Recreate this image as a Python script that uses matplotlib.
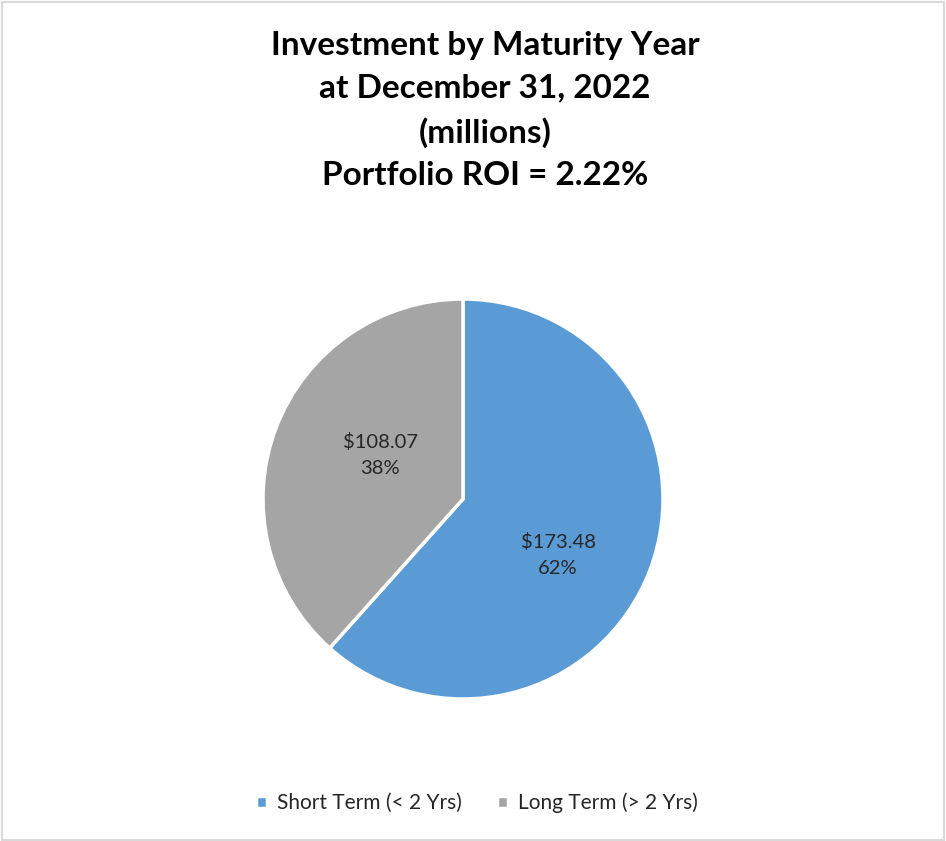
import matplotlib.pyplot as plt
from matplotlib.patches import Rectangle

plt.rcParams['font.family'] = ['Lato', 'DejaVu Sans']

labels = ['Short Term (< 2 Yrs)', 'Long Term (> 2 Yrs)']
values = [173.48, 108.07]
colors = ['#5B9BD5', '#A5A5A5']
title = 'Investment by Maturity Year\nat December 31, 2022\n(millions)\nPortfolio ROI = 2.22%'

fig = plt.figure(figsize=(9.46, 8.41), dpi=100)
total = sum(values)


def fmt(pct):
    val = pct * total / 100
    return '${:.2f}\n{:.0f}%'.format(val, pct)


# pie centre ~ (463, 499) px, radius ~200 px
ax = fig.add_axes([(463 - 200) / 946, (841 - 499 - 200) / 841, 400 / 946, 400 / 841])
wedges, texts, autotexts = ax.pie(values, colors=colors, startangle=90, counterclock=False,
                                  autopct=fmt, pctdistance=0.5,
                                  wedgeprops=dict(edgecolor='white', linewidth=2.5),
                                  textprops=dict(fontsize=14.5, color='#262626', linespacing=1.6))
ax.set_aspect('equal')
ax.set_xlim(-1, 1)
ax.set_ylim(-1, 1)

# excel "best fit" label spots (in pie radius units)
label_pos = [(0.475, -0.28), (-0.415, 0.22)]
for t, p in zip(autotexts, label_pos):
    t.set_position(p)

fig.text(485 / 946, 1 - 31 / 841, title, ha='center', va='top', fontsize=24, fontweight='bold',
         linespacing=1.56, color='black')

fig.legend(wedges, labels, loc='center', bbox_to_anchor=(477 / 946, 1 - 803 / 841), ncol=2,
           frameon=False, fontsize=15, handlelength=0.5, handleheight=0.5,
           columnspacing=1.7, handletextpad=0.5, labelcolor='#262626')

fig.patches.append(Rectangle((2 / 946, 1 / 841), 942 / 946, 838 / 841, transform=fig.transFigure,
                             fill=False, edgecolor='#D9D9D9', linewidth=1.5))

fig.savefig('out.png', dpi=100)
